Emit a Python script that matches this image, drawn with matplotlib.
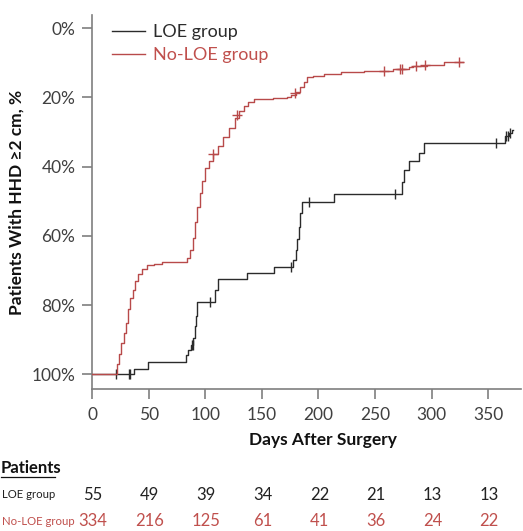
import matplotlib
matplotlib.use("Agg")
import matplotlib.pyplot as plt
import matplotlib.transforms as mtransforms
from matplotlib.lines import Line2D

plt.rcParams['font.family'] = ['Lato', 'DejaVu Sans']

W, H = 523, 531
DPI = 100

# ---------------- data ----------------
# No-LOE group: step curve (days, % of patients with HHD >= 2 cm)
noloe_t = [0, 22, 24, 26, 28, 30, 32, 34, 36, 38, 41, 44, 49, 55, 62,
           84, 87, 89, 91, 93, 95, 97, 100, 103, 107, 111, 116, 121, 126,
           130, 134, 138, 143, 160, 172, 176, 180, 184, 187, 190, 195, 205,
           220, 240, 266, 280, 284, 296, 311, 328]
noloe_y = [100, 97, 94, 91, 88, 85, 81, 78, 75.5, 73, 71, 69.5, 68.5, 68, 67.5,
           66.5, 64, 60.5, 56, 51.5, 47.5, 44, 40.5, 38.5, 36.2, 34, 31.3, 28.8, 26,
           24, 22.5, 21.3, 20.5, 20.2, 19.8, 19.3, 18.5, 17, 15.5, 14.2, 13.8, 13.3,
           12.8, 12.5, 11.9, 11.3, 10.8, 10.6, 9.9, 9.9]
noloe_cens_t = [107, 128, 179, 258, 272, 274, 286, 294, 324]
noloe_cens_y = [36.2, 25.0, 18.7, 12.5, 11.9, 11.9, 10.8, 10.6, 9.9]

# LOE group
loe_t = [0, 37, 49.5, 83, 85, 87.5, 89.5, 91, 92, 93, 109, 111, 137, 161,
         178, 180, 181.5, 182.7, 184, 185.6, 214, 274, 275.5, 280, 289, 293,
         365, 368, 371, 372]
loe_y = [100, 98.4, 96.3, 94.5, 93, 91.5, 89.5, 86, 83, 79, 75.5, 72.5, 70.8, 69.1,
         67, 64, 61, 57.5, 53.5, 50.1, 48, 44.5, 41, 38.3, 36.1, 33.3,
         31.0, 30.3, 29.5, 29.5]
loe_cens_t = [21, 33, 34, 88, 89, 104.6, 176, 192, 268, 357, 366, 367.5, 369.5]
loe_cens_y = [100, 100, 100, 91.5, 91.5, 79, 69.1, 50.1, 48, 33.3, 31.0, 31.0, 30.3]

x_ticks = [0, 50, 100, 150, 200, 250, 300, 350]
y_ticks = [0, 20, 40, 60, 80, 100]
y_tick_labels = ['0%', '20%', '40%', '60%', '80%', '100%']

risk_loe = [55, 49, 39, 34, 22, 21, 13, 13]
risk_noloe = [334, 216, 125, 61, 41, 36, 24, 22]

labels = ['LOE group', 'No-LOE group']
table_title = 'Patients'
c_loe = '#2b2b2b'
c_noloe = '#b84a4a'
c_text_red = '#c0504d'
c_axis = '#7f7f7f'
c_tick = '#404040'

# ---------------- figure ----------------
fig = plt.figure(figsize=(W / DPI, H / DPI), dpi=DPI)

def fx(px):
    return px / W

def fy(py):
    return 1 - py / H

ax_l, ax_r, ax_t, ax_b = 92, 521, 15, 389
ax = fig.add_axes([fx(ax_l), fy(ax_b), fx(ax_r) - fx(ax_l), fy(ax_t) - fy(ax_b)])

ax.step(loe_t, loe_y, where='post', color=c_loe, lw=1.0, label=labels[0], zorder=2)
ax.step(noloe_t, noloe_y, where='post', color=c_noloe, lw=1.0, label=labels[1], zorder=3)
ax.plot(loe_cens_t, loe_cens_y, ls='none', marker='|', ms=7, mew=1.0, color=c_loe, zorder=2)
ax.plot(noloe_cens_t, noloe_cens_y, ls='none', marker='+', ms=7, mew=1.0, color=c_noloe, zorder=3)

ax.set_xlim(0, 379)
ax.set_ylim(104.2, -3.8)
ax.set_xticks(x_ticks)
ax.set_yticks(y_ticks)
ax.set_yticklabels(y_tick_labels)

for s in ['top', 'right']:
    ax.spines[s].set_visible(False)
for s in ['left', 'bottom']:
    ax.spines[s].set_color(c_axis)
    ax.spines[s].set_linewidth(1.2)

ax.tick_params(axis='both', colors=c_axis, labelcolor=c_tick, length=7, width=1.2,
               labelsize=12.5)
ax.tick_params(axis='y', pad=5)
ax.tick_params(axis='x', pad=6)

leg = ax.legend(loc='upper left', bbox_to_anchor=(fx(112), fy(24)),
                bbox_transform=fig.transFigure, frameon=False, fontsize=13,
                handlelength=1.8, handletextpad=0.45, labelspacing=0.4,
                borderpad=0, borderaxespad=0, labelcolor=[c_loe, c_text_red])

ax.set_ylabel('Patients With HHD \u22652 cm, %', fontsize=12.5, fontweight='bold',
              color='#111111')
ax.yaxis.set_label_coords(fx(25), 0.5 * (fy(ax_t) + fy(ax_b)), transform=fig.transFigure)

fig.text(fx(323), fy(440), 'Days After Surgery', fontsize=12.5, fontweight='bold',
         color='#111111', ha='center', va='center')

# number at risk table
fig.text(fx(1), fy(468), table_title, fontsize=12, fontweight='bold',
         color='#111111', ha='left', va='center')
fig.add_artist(Line2D([fx(1), fx(55)], [fy(476.5), fy(476.5)], color='#111111', lw=0.9,
                      transform=fig.transFigure))
fig.text(fx(2), fy(495), labels[0], fontsize=8.2, color='#222222', ha='left', va='center')
fig.text(fx(2), fy(521.5), labels[1], fontsize=8.2, color=c_text_red, ha='left', va='center')

trans = mtransforms.blended_transform_factory(ax.transData, fig.transFigure)
for xv, a, b in zip(x_ticks, risk_loe, risk_noloe):
    ax.text(xv + 1, fy(495), str(a), transform=trans, fontsize=12, color='#222222',
            ha='center', va='center', clip_on=False)
    ax.text(xv + 1, fy(521.5), str(b), transform=trans, fontsize=12, color=c_text_red,
            ha='center', va='center', clip_on=False)

fig.savefig('out.png', dpi=DPI)
